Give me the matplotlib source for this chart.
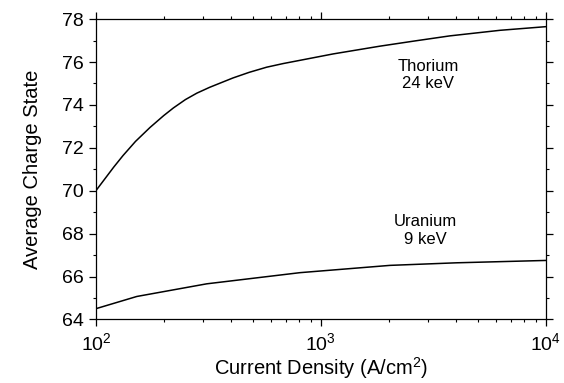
import matplotlib
matplotlib.use("Agg")
import matplotlib.pyplot as plt
from matplotlib.ticker import LogLocator, MultipleLocator

plt.rcParams['font.family'] = ['Liberation Sans', 'DejaVu Sans']
plt.rcParams['mathtext.fontset'] = 'custom'
plt.rcParams['mathtext.rm'] = 'Liberation Sans'
plt.rcParams['mathtext.it'] = 'Liberation Sans:italic'
plt.rcParams['mathtext.bf'] = 'Liberation Sans:bold'

# Thorium 24 keV
th_j = [100, 109, 120, 132, 150, 174, 200, 221, 250, 281, 320, 353, 407, 480, 574, 680, 807, 1135, 1828, 2600, 3740, 6250, 10000]
th_q = [70.0, 70.52, 71.10, 71.64, 72.30, 72.95, 73.50, 73.86, 74.25, 74.55, 74.82, 75.00, 75.26, 75.52, 75.76, 75.93, 76.08, 76.38, 76.74, 76.98, 77.22, 77.48, 77.65]

# Uranium 9 keV
u_j = [100, 152, 311, 807, 2028, 4010, 10000]
u_q = [64.50, 65.07, 65.66, 66.18, 66.52, 66.64, 66.75]

fig = plt.figure(figsize=(5.64, 3.83), dpi=100)
ax = fig.add_axes([0.170, 0.166, 0.798, 0.784])

ax.plot(th_j, th_q, color='black', lw=1.1)
ax.plot(u_j, u_q, color='black', lw=1.1)

ax.set_xscale('log')
ax.set_xlim(100, 10000)
ax.set_ylim(64, 78)
ax.yaxis.set_major_locator(MultipleLocator(2))
ax.yaxis.set_minor_locator(MultipleLocator(1))
ax.xaxis.set_major_locator(LogLocator(base=10))
ax.xaxis.set_minor_locator(LogLocator(base=10, subs=range(2, 10)))

ax.tick_params(which='both', direction='out', top=True, right=True,
               labeltop=False, labelright=False, color='black')
ax.tick_params(which='major', length=5, width=0.9, labelsize=14, pad=4)
ax.tick_params(which='minor', length=2.5, width=0.8)
for s in ax.spines.values():
    s.set_linewidth(0.9)

ax.set_xlabel('Current Density (A/cm$^2$)', fontsize=14.5, labelpad=1)
ax.set_ylabel('Average Charge State', fontsize=14.5, labelpad=14)

ax.text(0.738, 0.815, 'Thorium\n24 keV', transform=ax.transAxes,
        ha='center', va='center', fontsize=12, linespacing=1.2)
ax.text(0.731, 0.296, 'Uranium\n9 keV', transform=ax.transAxes,
        ha='center', va='center', fontsize=12, linespacing=1.2)

fig.savefig('out.png', dpi=100)
